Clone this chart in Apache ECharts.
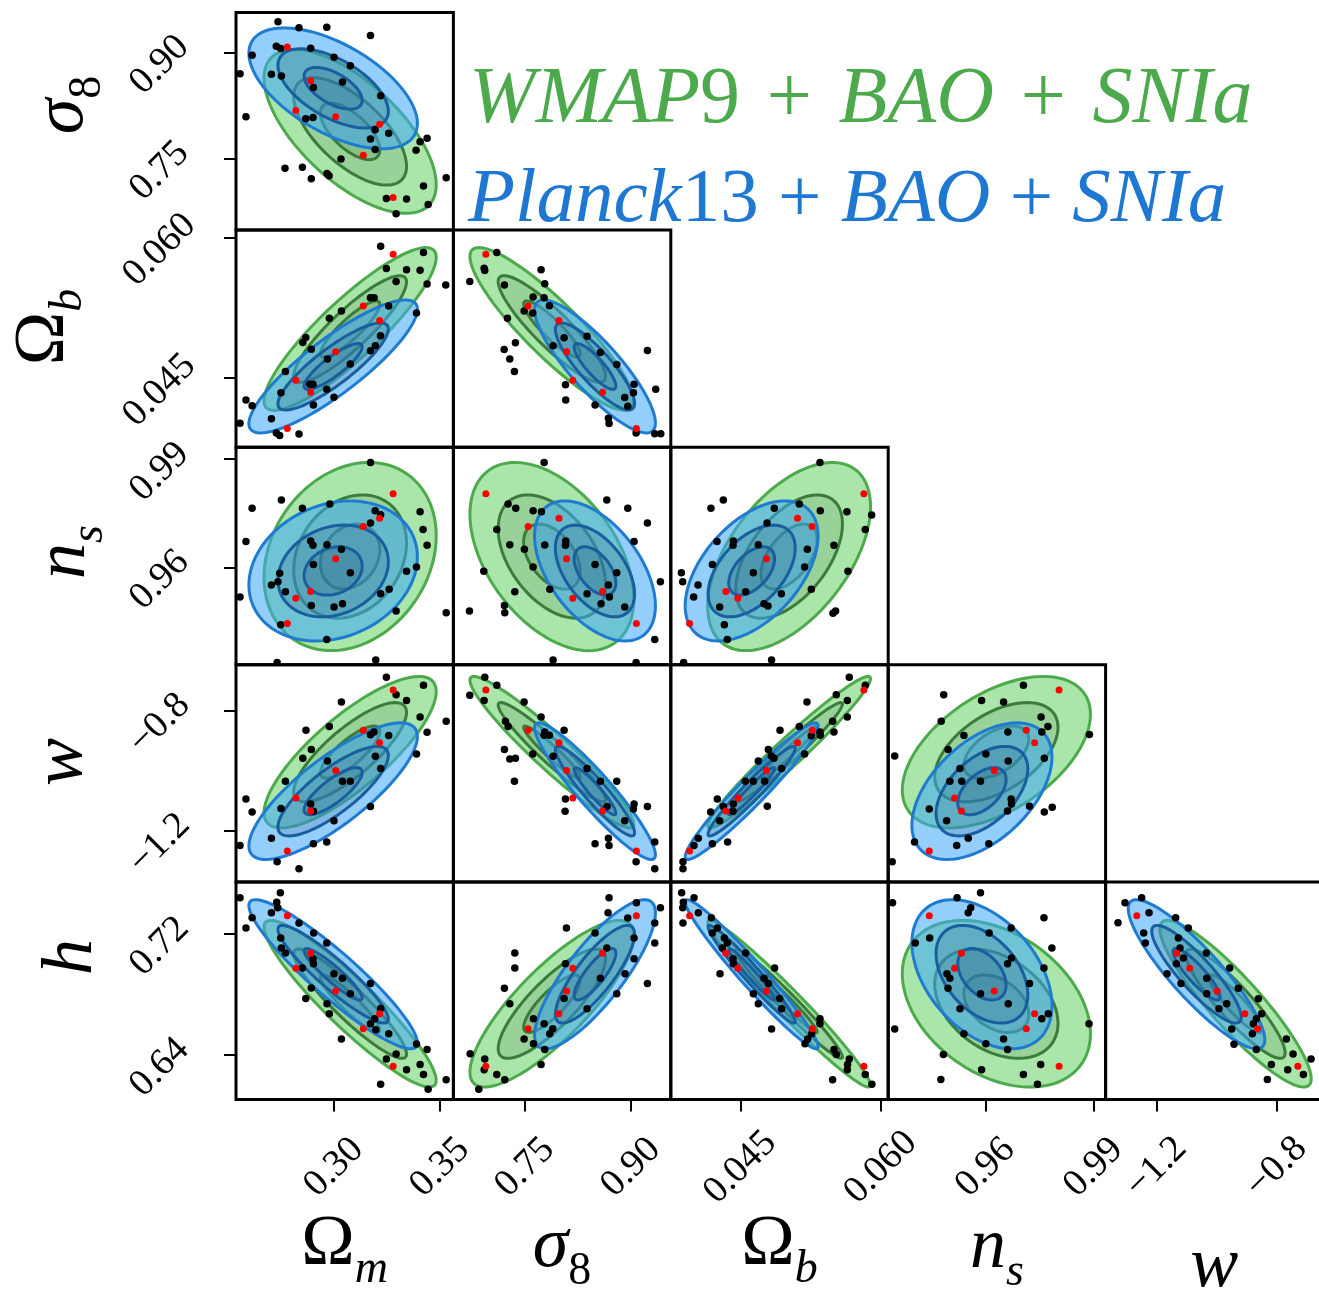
<!DOCTYPE html>
<html>
<head>
<meta charset="utf-8">
<script src="https://cdn.jsdelivr.net/npm/echarts@6/dist/echarts.min.js"></script>
<style>
  html, body { margin: 0; padding: 0; background: #fff; }
  #chart { width: 1319px; height: 1298px; }
</style>
</head>
<body>
<div id="chart"></div>
<script>
// ---------------- parameters & axes ----------------
const paramKeys = ['Om', 's8', 'Ob', 'ns', 'w', 'h'];
const columnParams = ['Om', 's8', 'Ob', 'ns', 'w'];
const rowParams = ['s8', 'Ob', 'ns', 'w', 'h'];

const axisRanges = {
  Om: [0.2538, 0.3563],
  s8: [0.6486, 0.9563],
  Ob: [0.03756, 0.06079],
  ns: [0.9330, 0.9933],
  w:  [-1.370, -0.6455],
  h:  [0.6104, 0.7541]
};
const tickValues = {
  Om: [0.30, 0.35],
  s8: [0.75, 0.90],
  Ob: [0.045, 0.060],
  ns: [0.96, 0.99],
  w:  [-1.2, -0.8],
  h:  [0.64, 0.72]
};
const tickLabels = {
  Om: ['0.30', '0.35'],
  s8: ['0.75', '0.90'],
  Ob: ['0.045', '0.060'],
  ns: ['0.96', '0.99'],
  w:  ['\u22121.2', '\u22120.8'],
  h:  ['0.64', '0.72']
};

// ---------------- Gaussian summaries of the two chains ----------------
// order: Om, s8, Ob, ns, w, h
const wmapMean    = [0.3076, 0.788, 0.0502, 0.9630, -0.937, 0.6737];
const wmapSigma   = [0.0140, 0.0400, 0.00300, 0.0090, 0.087, 0.0190];
const planckMean  = [0.2996, 0.849, 0.0462, 0.9590, -1.067, 0.6932];
const planckSigma = [0.0137, 0.0295, 0.00245, 0.0067, 0.0785, 0.0170];

const wmapCorr = {
  'Om-s8': -0.65, 'Om-Ob': 0.88, 'Om-ns': 0.22, 'Om-w': 0.80, 'Om-h': -0.92,
  's8-Ob': -0.89, 's8-ns': -0.45, 's8-w': -0.95, 's8-h': 0.82,
  'Ob-ns': 0.53, 'Ob-w': 0.97, 'Ob-h': -0.975,
  'ns-w': 0.50, 'ns-h': -0.36,
  'w-h': -0.90
};
const planckCorr = {
  'Om-s8': -0.58, 'Om-Ob': 0.86, 'Om-ns': 0.20, 'Om-w': 0.80, 'Om-h': -0.92,
  's8-Ob': -0.85, 's8-ns': -0.50, 's8-w': -0.93, 's8-h': 0.82,
  'Ob-ns': 0.50, 'Ob-w': 0.96, 'Ob-h': -0.97,
  'ns-w': 0.50, 'ns-h': -0.42,
  'w-h': -0.88
};
// contour radii in units of sigma, outermost first
const contourLevels = [2.9, 1.9, 1.0];

// ---------------- highlighted models (red) ----------------
// [Om, s8, Ob, ns, w, h]
const redModels = [
  [0.3279, 0.6945, 0.05819, 0.9804, -0.7294, 0.6323],
  [0.3138, 0.7543, 0.05266, 0.9713, -0.8639, 0.6572],
  [0.3215, 0.7980, 0.05110, 0.9736, -0.9057, 0.6671],
  [0.3008, 0.8088, 0.04777, 0.9624, -0.9983, 0.6821],
  [0.2820, 0.8176, 0.04472, 0.9514, -1.0898, 0.6971],
  [0.2890, 0.8597, 0.04344, 0.9533, -1.1327, 0.7070],
  [0.2780, 0.9076, 0.03957, 0.9444, -1.2661, 0.7319]
];

// ---------------- simulation nodes (black), per panel [x, y] ----------------
const nodes_s8_Om = [[0.2736,0.9431],[0.2835,0.9346],[0.2966,0.9356],[0.3172,0.9237],[0.2728,0.9086],[0.2749,0.9053],[0.2890,0.9057],[0.2614,0.8958],[0.3000,0.8929],[0.3077,0.8811],[0.2557,0.8697],[0.2705,0.8688],[0.2752,0.8664],[0.3040,0.8579],[0.2903,0.8503],[0.3220,0.8385],[0.2585,0.8087],[0.2867,0.8058],[0.2901,0.8077],[0.3194,0.7902],[0.3258,0.7855],[0.3172,0.7774],[0.3406,0.7732],[0.3439,0.7784],[0.3387,0.7613],[0.3194,0.7623],[0.3033,0.7490],[0.2769,0.7357],[0.2851,0.7372],[0.2967,0.7286],[0.2977,0.7253],[0.2893,0.7211],[0.3529,0.7225],[0.3422,0.7106],[0.3247,0.6931],[0.3342,0.6922],[0.3444,0.6846],[0.3293,0.6714]];
const nodes_Ob_Om = [[0.3220,0.05904],[0.3422,0.05837],[0.3247,0.05667],[0.3342,0.05652],[0.3406,0.05649],[0.3293,0.05528],[0.3439,0.05500],[0.3527,0.05489],[0.3172,0.05355],[0.3189,0.05355],[0.3258,0.05266],[0.3035,0.05213],[0.3389,0.05191],[0.2978,0.05135],[0.2867,0.04929],[0.2853,0.04876],[0.3219,0.04947],[0.3195,0.04840],[0.2893,0.04805],[0.3172,0.04787],[0.2969,0.04699],[0.3077,0.04645],[0.2771,0.04567],[0.2901,0.04429],[0.2886,0.04429],[0.2750,0.04340],[0.2966,0.04376],[0.3000,0.04291],[0.2585,0.04262],[0.2614,0.04199],[0.2903,0.04209],[0.2705,0.04060],[0.2557,0.04014],[0.2728,0.03908],[0.2744,0.03883],[0.2835,0.03897]];
const nodes_Ob_s8 = [[0.7100,0.05837],[0.6921,0.05670],[0.6930,0.05645],[0.7727,0.05652],[0.6718,0.05528],[0.7208,0.05489],[0.7779,0.05504],[0.7614,0.05362],[0.7770,0.05355],[0.7845,0.05269],[0.7487,0.05213],[0.7609,0.05191],[0.7251,0.05135],[0.8053,0.04926],[0.7897,0.04840],[0.8378,0.04943],[0.8567,0.04769],[0.7364,0.04872],[0.7204,0.04801],[0.7284,0.04699],[0.9232,0.04791],[0.8798,0.04642],[0.7350,0.04567],[0.9043,0.04429],[0.8072,0.04425],[0.9034,0.04340],[0.9350,0.04376],[0.8911,0.04287],[0.8076,0.04262],[0.8491,0.04209],[0.8954,0.04195],[0.8680,0.04067],[0.8689,0.04011],[0.9072,0.03908],[0.9336,0.03901],[0.9421,0.03901]];
const nodes_ns_Om = [[0.3172,0.9891],[0.2752,0.9787],[0.2614,0.9764],[0.2980,0.9776],[0.2851,0.9764],[0.3194,0.9757],[0.3220,0.9746],[0.3406,0.9754],[0.3172,0.9723],[0.3420,0.9705],[0.2585,0.9672],[0.3439,0.9661],[0.2890,0.9673],[0.2901,0.9661],[0.2967,0.9663],[0.3035,0.9650],[0.2903,0.9608],[0.3077,0.9585],[0.3389,0.9601],[0.3342,0.9589],[0.2744,0.9584],[0.2736,0.9560],[0.2705,0.9551],[0.2771,0.9532],[0.3220,0.9527],[0.3260,0.9539],[0.2557,0.9518],[0.2893,0.9494],[0.3000,0.9490],[0.3040,0.9499],[0.3293,0.9479],[0.3529,0.9474],[0.2749,0.9441],[0.2966,0.9400],[0.2732,0.9336],[0.3197,0.9343]];
const nodes_ns_s8 = [[0.7770,0.9891],[0.7260,0.9776],[0.7369,0.9764],[0.7614,0.9757],[0.7732,0.9754],[0.8657,0.9787],[0.8954,0.9764],[0.9232,0.9723],[0.7100,0.9705],[0.9043,0.9672],[0.7284,0.9663],[0.7491,0.9650],[0.7779,0.9662],[0.8076,0.9673],[0.8072,0.9661],[0.8491,0.9608],[0.8798,0.9585],[0.7614,0.9601],[0.6916,0.9589],[0.8680,0.9551],[0.7850,0.9539],[0.7355,0.9532],[0.8378,0.9527],[0.8694,0.9518],[0.8576,0.9499],[0.8911,0.9490],[0.7208,0.9494],[0.6713,0.9479],[0.7213,0.9474],[0.9416,0.9560],[0.9336,0.9400],[0.7897,0.9343],[0.9072,0.9336]];
const nodes_ns_Ob = [[0.05350,0.9891],[0.04317,0.9787],[0.04185,0.9764],[0.05129,0.9776],[0.04862,0.9764],[0.05353,0.9757],[0.05638,0.9754],[0.05902,0.9745],[0.04784,0.9723],[0.05834,0.9705],[0.04424,0.9673],[0.04421,0.9661],[0.04250,0.9672],[0.04691,0.9663],[0.05499,0.9661],[0.05215,0.9650],[0.04200,0.9608],[0.04638,0.9585],[0.05186,0.9601],[0.03869,0.9585],[0.03883,0.9560],[0.04047,0.9551],[0.04000,0.9518],[0.05649,0.9589],[0.04556,0.9532],[0.05257,0.9539],[0.04937,0.9527],[0.04752,0.9499],[0.04794,0.9493],[0.04278,0.9490],[0.04328,0.9441],[0.04360,0.9400],[0.05489,0.9473],[0.05517,0.9479],[0.03893,0.9336],[0.04833,0.9343]];
const nodes_w_Om = [[0.3247,-0.6876],[0.3422,-0.7140],[0.3293,-0.7460],[0.3342,-0.7647],[0.3035,-0.7702],[0.3406,-0.8198],[0.3529,-0.8341],[0.3439,-0.8705],[0.2868,-0.8639],[0.2978,-0.8517],[0.3172,-0.8793],[0.3189,-0.8694],[0.3258,-0.8815],[0.2893,-0.9278],[0.2853,-0.9575],[0.2969,-0.9663],[0.3195,-0.9509],[0.3389,-0.9432],[0.3220,-0.9917],[0.3040,-1.0336],[0.3077,-1.0336],[0.2771,-1.0336],[0.2585,-1.0931],[0.2614,-1.1360],[0.2750,-1.1250],[0.2890,-1.1096],[0.2903,-1.1338],[0.3172,-1.1184],[0.3000,-1.1658],[0.2705,-1.2242],[0.2903,-1.2418],[0.2966,-1.2363],[0.2557,-1.2484],[0.2732,-1.3024],[0.2835,-1.3256]];
const nodes_w_s8 = [[0.6930,-0.6876],[0.7100,-0.7140],[0.6718,-0.7471],[0.6921,-0.7647],[0.7487,-0.7702],[0.7727,-0.8198],[0.7222,-0.8341],[0.7260,-0.8517],[0.7779,-0.8694],[0.7770,-0.8804],[0.7845,-0.8804],[0.8053,-0.8639],[0.7609,-0.9432],[0.7208,-0.9278],[0.7284,-0.9597],[0.7364,-0.9575],[0.7897,-0.9509],[0.8378,-0.9917],[0.8798,-1.0336],[0.8567,-1.0336],[0.7350,-1.0336],[0.8072,-1.0931],[0.8067,-1.1338],[0.9043,-1.1096],[0.9034,-1.1261],[0.9232,-1.1184],[0.8911,-1.1658],[0.8661,-1.1184],[0.8680,-1.2242],[0.8491,-1.2418],[0.8689,-1.2484],[0.9336,-1.2363],[0.9072,-1.3024],[0.9336,-1.3256]];
const nodes_w_Ob = [[0.05663,-0.6876],[0.05834,-0.7140],[0.05524,-0.7460],[0.05642,-0.7647],[0.05211,-0.7702],[0.05642,-0.8198],[0.05485,-0.8341],[0.05499,-0.8694],[0.04923,-0.8639],[0.05129,-0.8517],[0.05257,-0.8826],[0.05350,-0.8694],[0.05353,-0.8804],[0.04798,-0.9278],[0.04691,-0.9663],[0.04830,-0.9498],[0.04858,-0.9575],[0.05186,-0.9432],[0.04940,-0.9917],[0.04552,-1.0336],[0.04638,-1.0336],[0.04759,-1.0336],[0.04253,-1.0931],[0.04182,-1.1360],[0.04317,-1.1184],[0.04424,-1.1096],[0.04421,-1.1338],[0.04278,-1.1658],[0.04787,-1.1173],[0.04050,-1.2242],[0.04004,-1.2484],[0.04200,-1.2418],[0.04363,-1.2363],[0.03886,-1.3024],[0.03886,-1.3256]];
const nodes_w_ns = [[0.9705,-0.7140],[0.9484,-0.7460],[0.9589,-0.7647],[0.9650,-0.7702],[0.9477,-0.8341],[0.9754,-0.8198],[0.9773,-0.8517],[0.9888,-0.8782],[0.9540,-0.8815],[0.9662,-0.8694],[0.9756,-0.8694],[0.9496,-0.9278],[0.9348,-0.9498],[0.9601,-0.9432],[0.9663,-0.9663],[0.9763,-0.9575],[0.9529,-0.9917],[0.9501,-1.0336],[0.9534,-1.0336],[0.9586,-1.0336],[0.9671,-1.0931],[0.9672,-1.1096],[0.9661,-1.1327],[0.9722,-1.1173],[0.9763,-1.1360],[0.9785,-1.1206],[0.9444,-1.1261],[0.9492,-1.1658],[0.9552,-1.2242],[0.9609,-1.2418],[0.9520,-1.2484],[0.9403,-1.2363],[0.9341,-1.3024]];
const nodes_h_Om = [[0.2557,0.7438],[0.2747,0.7471],[0.2730,0.7407],[0.2735,0.7372],[0.2705,0.7339],[0.2614,0.7306],[0.2585,0.7237],[0.2835,0.7271],[0.2904,0.7204],[0.2966,0.7138],[0.2749,0.7171],[0.2752,0.7105],[0.2771,0.7072],[0.2901,0.7035],[0.2903,0.7002],[0.2851,0.6973],[0.3000,0.6936],[0.3040,0.6905],[0.3077,0.6803],[0.3172,0.6870],[0.2893,0.6841],[0.2867,0.6772],[0.2967,0.6737],[0.2978,0.6671],[0.3220,0.6706],[0.3192,0.6638],[0.3172,0.6605],[0.3197,0.6565],[0.3258,0.6539],[0.3035,0.6504],[0.3389,0.6471],[0.3439,0.6435],[0.3293,0.6404],[0.3247,0.6371],[0.3406,0.6336],[0.3342,0.6301],[0.3422,0.6270],[0.3529,0.6235],[0.3220,0.6204],[0.3444,0.6171]];
const nodes_h_s8 = [[0.8689,0.7438],[0.9076,0.7405],[0.8675,0.7339],[0.9416,0.7372],[0.8954,0.7304],[0.9336,0.7271],[0.8086,0.7237],[0.9043,0.7171],[0.9336,0.7138],[0.8491,0.7204],[0.8657,0.7105],[0.7355,0.7072],[0.9043,0.7035],[0.7355,0.6973],[0.8072,0.7002],[0.8916,0.6936],[0.8567,0.6905],[0.9232,0.6870],[0.7208,0.6839],[0.8798,0.6803],[0.8053,0.6772],[0.7284,0.6737],[0.8378,0.6704],[0.7770,0.6605],[0.7892,0.6572],[0.7850,0.6539],[0.7619,0.6638],[0.7487,0.6504],[0.7619,0.6473],[0.7779,0.6435],[0.6723,0.6407],[0.6930,0.6371],[0.7727,0.6336],[0.6921,0.6301],[0.7100,0.6270],[0.7213,0.6235],[0.6845,0.6171]];
const nodes_h_Ob = [[0.03872,0.7471],[0.04004,0.7438],[0.03890,0.7407],[0.03883,0.7372],[0.04050,0.7339],[0.03886,0.7271],[0.04189,0.7306],[0.04253,0.7237],[0.04328,0.7171],[0.04360,0.7138],[0.04307,0.7105],[0.04200,0.7204],[0.04421,0.7035],[0.04424,0.7002],[0.04556,0.7072],[0.04282,0.6936],[0.04865,0.6973],[0.04752,0.6905],[0.04798,0.6870],[0.04638,0.6803],[0.04691,0.6737],[0.04919,0.6772],[0.04940,0.6704],[0.04833,0.6570],[0.05350,0.6638],[0.05350,0.6605],[0.05261,0.6539],[0.05218,0.6504],[0.05190,0.6473],[0.05499,0.6435],[0.05524,0.6402],[0.05663,0.6371],[0.05645,0.6336],[0.05642,0.6301],[0.05834,0.6270],[0.05905,0.6204],[0.05485,0.6235]];
const nodes_h_ns = [[0.9586,0.7471],[0.9521,0.7438],[0.9342,0.7405],[0.9559,0.7372],[0.9552,0.7339],[0.9762,0.7306],[0.9671,0.7237],[0.9610,0.7204],[0.9445,0.7171],[0.9405,0.7138],[0.9784,0.7105],[0.9672,0.7039],[0.9661,0.7002],[0.9762,0.6973],[0.9493,0.6936],[0.9501,0.6905],[0.9496,0.6839],[0.9722,0.6870],[0.9586,0.6803],[0.9663,0.6737],[0.9529,0.6704],[0.9774,0.6671],[0.9756,0.6638],[0.9348,0.6570],[0.9540,0.6539],[0.9650,0.6504],[0.9601,0.6473],[0.9661,0.6435],[0.9483,0.6402],[0.9753,0.6336],[0.9589,0.6301],[0.9705,0.6270],[0.9476,0.6237],[0.9744,0.6204],[0.9887,0.6605]];
const nodes_h_w = [[-1.2498,0.7438],[-1.3053,0.7405],[-1.2253,0.7339],[-1.3287,0.7273],[-1.2431,0.7204],[-1.2376,0.7138],[-1.1364,0.7306],[-1.0942,0.7237],[-1.1276,0.7171],[-1.1220,0.7105],[-1.1342,0.7002],[-1.1109,0.7039],[-1.1653,0.6936],[-1.1187,0.6870],[-1.0342,0.7072],[-0.9564,0.6973],[-1.0331,0.6905],[-1.0331,0.6803],[-0.9276,0.6839],[-0.9920,0.6704],[-0.9664,0.6737],[-0.8609,0.6770],[-0.8498,0.6671],[-0.8676,0.6638],[-0.8776,0.6605],[-0.8809,0.6539],[-0.9498,0.6570],[-0.9420,0.6470],[-0.8676,0.6435],[-0.7676,0.6504],[-0.7453,0.6404],[-0.8176,0.6336],[-0.7631,0.6301],[-0.7109,0.6270],[-0.6853,0.6371],[-0.8309,0.6237]];

const nodesByPanel = {
  's8|Om': nodes_s8_Om,
  'Ob|Om': nodes_Ob_Om, 'Ob|s8': nodes_Ob_s8,
  'ns|Om': nodes_ns_Om, 'ns|s8': nodes_ns_s8, 'ns|Ob': nodes_ns_Ob,
  'w|Om': nodes_w_Om, 'w|s8': nodes_w_s8, 'w|Ob': nodes_w_Ob, 'w|ns': nodes_w_ns,
  'h|Om': nodes_h_Om, 'h|s8': nodes_h_s8, 'h|Ob': nodes_h_Ob, 'h|ns': nodes_h_ns, 'h|w': nodes_h_w
};

// ---------------- layout & styles ----------------
const SERIF = "'Liberation Serif', 'DejaVu Serif', serif";
const CELL = 217.4, GRID_LEFT = 236, GRID_TOP = 12.5;

const wmapStyle = {
  fills: ['rgba(100,210,100,0.55)', 'rgba(55,100,55,0.15)', 'rgba(55,100,55,0.15)'],
  lines: ['#4caa4c', '#3a7c3a', '#3a7c3a']
};
const planckStyle = {
  fills: ['rgba(60,165,245,0.55)', 'rgba(25,70,115,0.16)', 'rgba(25,70,115,0.16)'],
  lines: ['#1f7bd1', '#195e9e', '#195e9e']
};

function corrOf(table, a, b) {
  return table[a + '-' + b] !== undefined ? table[a + '-' + b] : table[b + '-' + a];
}

// filled confidence ellipses of one chain in one panel
function contourSeries(idx, xp, yp, mean, sigma, corr, style, z) {
  const xi = paramKeys.indexOf(xp), yi = paramKeys.indexOf(yp);
  const mx = mean[xi], my = mean[yi], sx = sigma[xi], sy = sigma[yi];
  const rho = corrOf(corr, xp, yp);
  const q = Math.sqrt(1 - rho * rho);
  return {
    type: 'custom', xAxisIndex: idx, yAxisIndex: idx, z: z, silent: true, clip: true,
    encode: { x: 0, y: 1 },
    data: contourLevels.map((k, i) => [mx, my, i]),
    renderItem: function (params, api) {
      const li = api.value(2);
      const k = contourLevels[li];
      const pts = [];
      const N = 96;
      for (let t = 0; t < N; t++) {
        const a = 2 * Math.PI * t / N;
        const u = Math.cos(a), v = Math.sin(a);
        pts.push(api.coord([mx + k * sx * u, my + k * sy * (rho * u + q * v)]));
      }
      return {
        type: 'polygon',
        shape: { points: pts },
        style: { fill: style.fills[li], stroke: style.lines[li], lineWidth: 3 }
      };
    }
  };
}

const grids = [], xAxes = [], yAxes = [], series = [];
let gi = 0;
rowParams.forEach((yp, r) => {
  for (let c = 0; c <= r; c++) {
    const xp = columnParams[c];
    const isBottom = r === rowParams.length - 1;
    const isLeft = c === 0;
    grids.push({
      left: GRID_LEFT + c * CELL, top: GRID_TOP + r * CELL, width: CELL, height: CELL,
      show: true, borderColor: '#000', borderWidth: 3, backgroundColor: 'transparent',
      containLabel: false, outerBoundsMode: 'none'
    });
    xAxes.push({
      gridIndex: gi, type: 'value', min: axisRanges[xp][0], max: axisRanges[xp][1],
      axisLine: { show: false }, splitLine: { show: false },
      axisTick: { show: isBottom, customValues: tickValues[xp], length: 12, lineStyle: { color: '#000', width: 2 } },
      axisLabel: {
        show: isBottom, customValues: tickValues[xp], rotate: 45, align: 'center', verticalAlign: 'middle',
        margin: 68, fontSize: 38, fontFamily: SERIF, color: '#000',
        formatter: (v) => tickLabels[xp][tickValues[xp].findIndex(t => Math.abs(t - v) < 1e-9)]
      }
    });
    yAxes.push({
      gridIndex: gi, type: 'value', min: axisRanges[yp][0], max: axisRanges[yp][1],
      axisLine: { show: false }, splitLine: { show: false },
      axisTick: { show: isLeft, customValues: tickValues[yp], length: 12, lineStyle: { color: '#000', width: 2 } },
      axisLabel: {
        show: isLeft, customValues: tickValues[yp], rotate: 45, align: 'center', verticalAlign: 'top',
        lineHeight: 36, margin: 89, fontSize: 38, fontFamily: SERIF, color: '#000',
        formatter: (v) => tickLabels[yp][tickValues[yp].findIndex(t => Math.abs(t - v) < 1e-9)]
      }
    });
    series.push(contourSeries(gi, xp, yp, wmapMean, wmapSigma, wmapCorr, wmapStyle, 1));
    series.push(contourSeries(gi, xp, yp, planckMean, planckSigma, planckCorr, planckStyle, 2));
    series.push({
      type: 'scatter', xAxisIndex: gi, yAxisIndex: gi, z: 3, silent: true, clip: true,
      symbol: 'circle', symbolSize: 7.5, itemStyle: { color: '#000', opacity: 1 },
      data: nodesByPanel[yp + '|' + xp]
    });
    const xi = paramKeys.indexOf(xp), yi = paramKeys.indexOf(yp);
    series.push({
      type: 'scatter', xAxisIndex: gi, yAxisIndex: gi, z: 4, silent: true, clip: true,
      symbol: 'circle', symbolSize: 7, itemStyle: { color: '#ff0000', opacity: 1 },
      data: redModels.map(m => [m[xi], m[yi]])
    });
    gi++;
  }
});

// ---------------- axis names & legend text ----------------
const nameRich = {
  m:  { fontSize: 72, fontFamily: SERIF, fill: '#000', lineHeight: 84, verticalAlign: 'top' },
  mi: { fontSize: 72, fontFamily: SERIF, fontStyle: 'italic', fill: '#000', lineHeight: 84, verticalAlign: 'top' },
  s:  { fontSize: 46, fontFamily: SERIF, fill: '#000', lineHeight: 40, verticalAlign: 'bottom' },
  si: { fontSize: 46, fontFamily: SERIF, fontStyle: 'italic', fill: '#000', lineHeight: 40, verticalAlign: 'bottom' }
};
const axisNames = {
  Om: '{m|\u03A9}{si|m}',
  s8: '{mi|\u03C3}{s|8}',
  Ob: '{m|\u03A9}{si|b}',
  ns: '{mi|n}{si|s}',
  w:  '{mi|w}',
  h:  '{mi|h}'
};
const bottomNameTop = { Om: 1209, s8: 1211, Ob: 1209, ns: 1212, w: 1231 };
const leftNameCenter = { s8: [69, 105], Ob: [50, 327], ns: [71, 552], w: [68, 762], h: [78, 957] };

const graphics = [];
columnParams.forEach((p, c) => {
  graphics.push({
    type: 'text', x: GRID_LEFT + (c + 0.5) * CELL, y: bottomNameTop[p], silent: true,
    style: { text: axisNames[p], rich: nameRich, align: 'center', verticalAlign: 'top', fill: '#000', fontFamily: SERIF }
  });
});
rowParams.forEach((p) => {
  graphics.push({
    type: 'text', x: leftNameCenter[p][0], y: leftNameCenter[p][1], rotation: Math.PI / 2, silent: true,
    style: { text: axisNames[p], rich: nameRich, align: 'center', verticalAlign: 'middle', fill: '#000', fontFamily: SERIF }
  });
});

function legendRich(color, size) {
  return {
    i: { fontSize: size, fontFamily: SERIF, fontStyle: 'italic', fill: color },
    n: { fontSize: size, fontFamily: SERIF, fill: color }
  };
}
graphics.push({
  type: 'text', x: 469, y: 101, silent: true,
  style: { text: '{i|WMAP}{n|9\u2004+\u2004}{i|BAO}{n|\u2004+\u2004}{i|SNIa}', rich: legendRich('#4caa4c', 80), fill: '#4caa4c', fontFamily: SERIF, align: 'left', verticalAlign: 'middle' }
});
graphics.push({
  type: 'text', x: 468, y: 201, silent: true,
  style: { text: '{i|Planck}{n|13 + }{i|BAO}{n| + }{i|SNIa}', rich: legendRich('#1e78d2', 77), fill: '#1e78d2', fontFamily: SERIF, align: 'left', verticalAlign: 'middle' }
});

const chart = echarts.init(document.getElementById('chart'), null, { renderer: 'canvas' });
chart.setOption({
  animation: false,
  backgroundColor: '#ffffff',
  grid: grids,
  xAxis: xAxes,
  yAxis: yAxes,
  series: series,
  graphic: graphics
});
</script>
</body>
</html>
